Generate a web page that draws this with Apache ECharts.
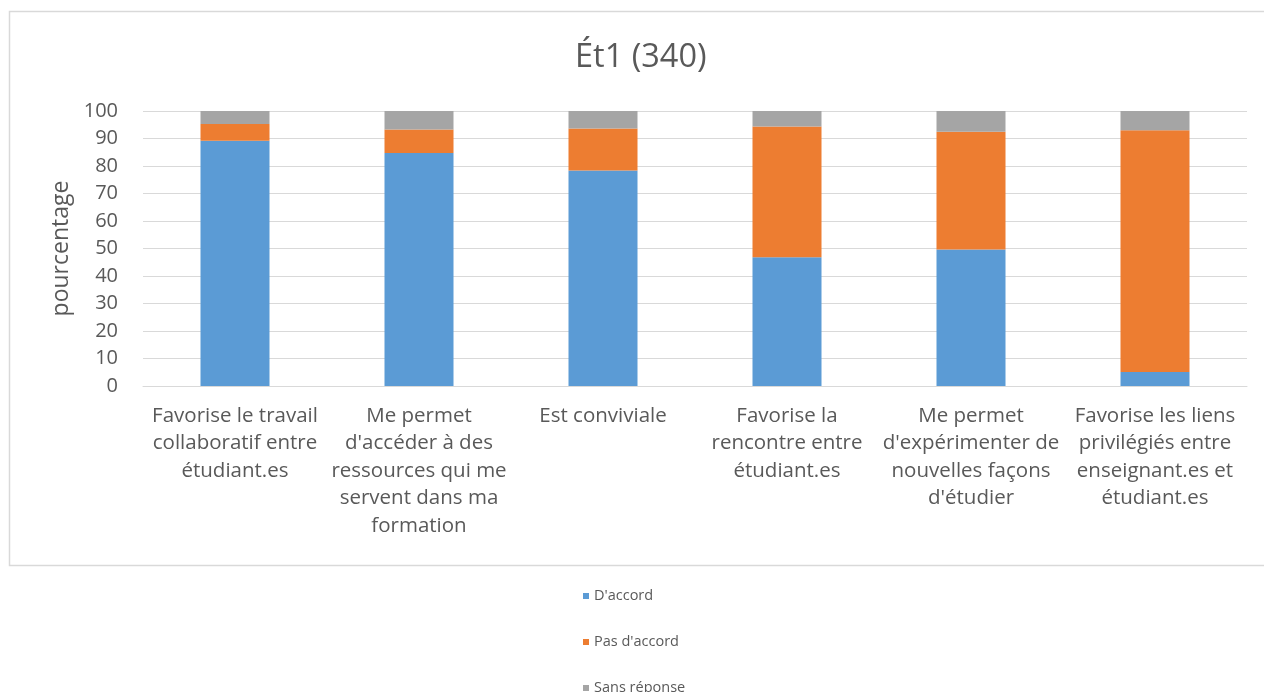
<!DOCTYPE html>
<html>
<head>
<meta charset="utf-8">
<script src="https://cdn.jsdelivr.net/npm/echarts@6/dist/echarts.min.js"></script>
<style>
html,body{margin:0;padding:0;background:#fff;}
#c{width:1264px;height:692px;}
</style>
</head>
<body>
<div id="c"></div>
<script>
const categories = [
  "Favorise le travail\ncollaboratif entre\nétudiant.es",
  "Me permet\nd'accéder à des\nressources qui me\nservent dans ma\nformation",
  "Est conviviale",
  "Favorise la\nrencontre entre\nétudiant.es",
  "Me permet\nd'expérimenter de\nnouvelles façons\nd'étudier",
  "Favorise les liens\nprivilégiés entre\nenseignant.es et\nétudiant.es"
];
const daccord = [89.2, 84.7, 78.4, 46.8, 49.6, 5.1];
const pasDaccord = [6.1, 8.6, 15.2, 47.6, 42.9, 87.9];
const sansReponse = [4.7, 6.7, 6.4, 5.6, 7.5, 7.0];
const seriesNames = ["D'accord", "Pas d'accord", "Sans réponse"];
const yTicks = [0, 100, 10];

const font = "'Open Sans', 'Noto Sans', sans-serif";
const chart = echarts.init(document.getElementById('c'), null, {renderer: 'canvas'});
const mk = (name, data, color) => ({
  name, type: 'bar', stack: 'total', data,
  barWidth: '37.5%',
  itemStyle: {color},
  emphasis: {disabled: true}
});
chart.setOption({
  animation: false,
  backgroundColor: '#fff',
  graphic: [{
    type: 'rect', silent: true, z: -1,
    shape: {x: 9.5, y: 11.5, width: 1270, height: 554},
    style: {fill: 'none', stroke: '#d9d9d9', lineWidth: 1.5}
  }],
  title: {
    text: 'Ét1 (340)', left: 570, top: 36,
    textStyle: {fontFamily: font, fontSize: 32.5, fontWeight: 'normal', color: '#595959'}
  },
  legend: {
    orient: 'vertical', left: 578, top: 582, height: 120,
    itemWidth: 6, itemHeight: 6, itemGap: 28,
    icon: 'rect',
    textStyle: {fontFamily: font, fontSize: 14.5, lineHeight: 18, color: '#595959'},
    data: seriesNames
  },
  grid: {left: 143, right: 17, top: 111, bottom: 306, containLabel: false},
  xAxis: {
    type: 'category', data: categories,
    axisLine: {lineStyle: {color: '#d9d9d9', width: 1}},
    axisTick: {show: false},
    axisLabel: {
      fontFamily: font, fontSize: 20.5, color: '#595959', lineHeight: 27.5,
      interval: 0, margin: 16
    }
  },
  yAxis: {
    type: 'value', min: yTicks[0], max: yTicks[1], interval: yTicks[2],
    name: 'pourcentage', nameLocation: 'middle', nameGap: 68,
    nameTextStyle: {fontFamily: font, fontSize: 23, color: '#595959'},
    axisLine: {show: false}, axisTick: {show: false},
    axisLabel: {fontFamily: font, fontSize: 20, color: '#595959', margin: 25},
    splitLine: {lineStyle: {color: '#d9d9d9', width: 1}}
  },
  series: [
    mk(seriesNames[0], daccord, '#5B9BD5'),
    mk(seriesNames[1], pasDaccord, '#ED7D31'),
    mk(seriesNames[2], sansReponse, '#A5A5A5')
  ]
});
</script>
</body>
</html>
